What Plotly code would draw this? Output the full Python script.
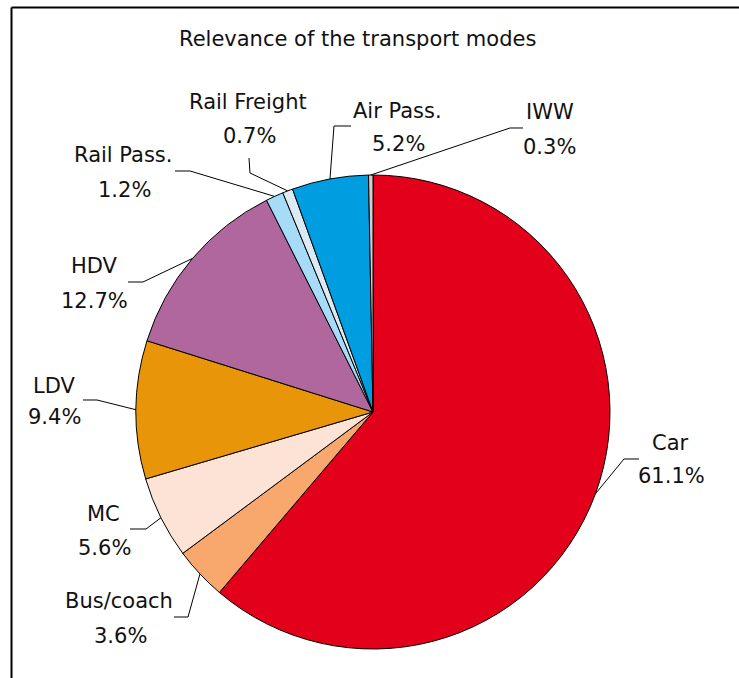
import math

import plotly.graph_objects as go

W, H = 739, 678

MODES = ["Car", "Bus/coach", "MC", "LDV", "HDV", "Rail Pass.", "Rail Freight", "Air Pass.", "IWW"]
SHARES = [61.1, 3.6, 5.6, 9.4, 12.7, 1.2, 0.7, 5.2, 0.3]
COLORS = ["#E2001A", "#F9A86D", "#FDE3D5", "#E8950A", "#B0679E",
          "#A6DCF7", "#DCEBF3", "#009EE0", "#CFCFCF"]

# label layout in pixels: name centre, percent centre, leader elbow, leader end
LABEL_POS = {
    "Car":          ((670, 443), (671, 476), (624, 459), (639, 459)),
    "Bus/coach":    ((119, 601), (120, 636), (188, 617), (174, 617)),
    "MC":           ((103, 514), (104, 548), (146, 529), (130, 529)),
    "LDV":          ((54, 386), (55, 417), (97, 400), (83, 400)),
    "HDV":          ((95, 266), (95, 301), (143, 282), (128, 282)),
    "Rail Pass.":   ((123, 155), (124, 190), (190, 171), (175, 171)),
    "Rail Freight": ((248, 102), (249, 136), (250, 173), (249, 158)),
    "Air Pass.":    ((397, 111), (398, 144), (334, 126), (351, 126)),
    "IWW":          ((550, 112), (549, 147), (510, 128), (523, 128)),
}

CX, CY, R = 373, 412, 237
FONT = "DejaVu Sans, Verdana, sans-serif"
INK = "#111111"


def px(x, y):
    return x / W, 1 - y / H


fig = go.Figure(go.Pie(
    labels=MODES, values=SHARES, sort=False, direction="clockwise", rotation=0,
    marker=dict(colors=COLORS, line=dict(color="black", width=1)),
    textinfo="none", hoverinfo="label+percent", showlegend=False,
    domain=dict(x=[(CX - R) / W, (CX + R) / W], y=[1 - (CY + R) / H, 1 - (CY - R) / H]),
))

annotations = []
shapes = []
total = sum(SHARES)
cum = 0.0
for mode, share in zip(MODES, SHARES):
    mid = (cum + share / 2) / total * 2 * math.pi
    cum += share
    sx, sy = CX + R * math.sin(mid), CY - R * math.cos(mid)
    name_xy, pct_xy, elbow, end = LABEL_POS[mode]
    pts = [px(sx, sy), px(*elbow), px(*end)]
    path = "M " + " L ".join(f"{x:.5f},{y:.5f}" for x, y in pts)
    shapes.append(dict(type="path", xref="paper", yref="paper", path=path,
                       line=dict(color="black", width=1)))
    for text, (x, y) in ((mode, name_xy), (f"{share:.1f}%", pct_xy)):
        ax, ay = px(x, y)
        annotations.append(dict(text=text, x=ax, y=ay, xref="paper", yref="paper",
                                xanchor="center", yanchor="middle", showarrow=False,
                                font=dict(family=FONT, size=21, color=INK)))

tx, ty = px(357.5, 39)
annotations.append(dict(text="Relevance of the transport modes", x=tx, y=ty,
                        xref="paper", yref="paper", xanchor="center", yanchor="middle",
                        showarrow=False, font=dict(family=FONT, size=21, color=INK)))

# chart frame (top and left edges visible in the crop)
shapes.append(dict(type="line", xref="paper", yref="paper",
                   x0=11.5 / W, y0=1 - 7.5 / H, x1=1, y1=1 - 7.5 / H,
                   line=dict(color="black", width=2)))
shapes.append(dict(type="line", xref="paper", yref="paper",
                   x0=11.5 / W, y0=1 - 7.5 / H, x1=11.5 / W, y1=0,
                   line=dict(color="black", width=2)))

fig.update_layout(
    width=W, height=H, margin=dict(l=0, r=0, t=0, b=0),
    paper_bgcolor="white", plot_bgcolor="white",
    font=dict(family=FONT, color=INK),
    annotations=annotations, shapes=shapes,
)
fig.write_html("out.html", config={"displayModeBar": False},
               post_script="document.body.style.margin='0';document.body.style.overflow='hidden';")
